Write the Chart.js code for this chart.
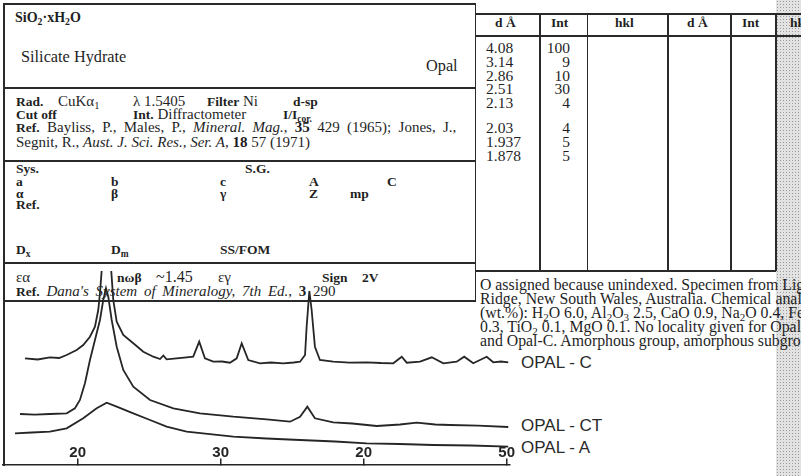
<!DOCTYPE html>
<html><head><meta charset="utf-8">
<script src="https://cdn.jsdelivr.net/npm/chart.js@4.4.0/dist/chart.umd.min.js"></script>
<style>
html,body{margin:0;padding:0;background:#fff;}
body{width:801px;height:476px;position:relative;overflow:hidden;font-family:"Liberation Serif","Times New Roman",serif;color:#1f1f1f;}
.t{position:absolute;white-space:nowrap;line-height:16px;height:16px;font-size:15px;z-index:1;}
.b{font-weight:bold;font-size:13.5px;}
.i{font-style:italic;}
.h{position:absolute;background:#2a2a2a;height:1.5px;z-index:1;}
.v{position:absolute;background:#2a2a2a;width:1.5px;z-index:1;}
.sb{font-size:70%;vertical-align:-0.3em;line-height:0;}
.cm{font-size:15.8px;}
.dv{font-size:15.5px;}
.lab{position:absolute;white-space:nowrap;font-family:"Liberation Sans",Arial,sans-serif;font-size:17px;line-height:18px;color:#2a2a2a;z-index:1;}
#shade{position:absolute;left:776px;top:0;width:25px;height:476px;background-color:#e2e2e2;background-image:radial-gradient(#9a9a9a 0.7px,transparent 0.9px);background-size:3px 3px;z-index:0;}
#c{position:absolute;left:0;top:0;z-index:2;}
</style>
</head>
<body>
<div id="shade"></div>

<!-- card frame -->
<div class="h" style="left:3px;top:3px;width:473px"></div>
<div class="v" style="left:3px;top:3px;height:463px"></div>
<div class="v" style="left:474.5px;top:3px;height:298px"></div>
<div class="h" style="left:3px;top:87px;width:473px"></div>
<div class="h" style="left:3px;top:160px;width:473px"></div>
<div class="h" style="left:3px;top:262px;width:473px"></div>
<div class="h" style="left:3px;top:300px;width:473px"></div>

<!-- d-spacing table frame -->
<div class="h" style="left:475px;top:13px;width:330px"></div>
<div class="h" style="left:475px;top:35px;width:330px"></div>
<div class="h" style="left:475px;top:270px;width:301px"></div>
<div class="v" style="left:539px;top:13px;height:258px"></div>
<div class="v" style="left:586.5px;top:13px;height:258px"></div>
<div class="v" style="left:667px;top:13px;height:258px"></div>
<div class="v" style="left:730px;top:13px;height:258px"></div>
<div class="v" style="left:775px;top:13px;height:258px"></div>

<!-- card text -->
<div class="t b" style="left:15px;top:10px;font-size:14px">SiO<span class="sb">2</span>·xH<span class="sb">2</span>O</div>
<div class="t" style="left:21px;top:49px;font-size:16.3px">Silicate Hydrate</div>
<div class="t" style="left:426px;top:58px;font-size:16.3px">Opal</div>

<div class="t" style="left:16px;top:93px"><span class="b">Rad.</span></div>
<div class="t" style="left:58px;top:93px">CuKα<span class="sb">1</span></div>
<div class="t" style="left:133px;top:93px">λ 1.5405</div>
<div class="t" style="left:207px;top:93px"><span class="b">Filter</span> Ni</div>
<div class="t" style="left:293px;top:93px"><span class="b">d-sp</span></div>
<div class="t" style="left:16px;top:105.5px"><span class="b">Cut off</span></div>
<div class="t" style="left:133px;top:105.5px"><span class="b">Int.</span> Diffractometer</div>
<div class="t" style="left:283px;top:105.5px"><span class="b">I/I<span class="sb">cor.</span></span></div>
<div class="t" style="left:16px;top:119px;word-spacing:3.6px"><span class="b">Ref.</span> Bayliss, P., Males, P., <span class="i">Mineral. Mag.</span>, <b>35</b> 429 (1965); Jones, J.,</div>
<div class="t" style="left:16px;top:133.5px">Segnit, R., <span class="i">Aust. J. Sci. Res., Ser. A</span>, <b>18</b> 57 (1971)</div>

<div class="t" style="left:16px;top:160px"><span class="b">Sys.</span></div>
<div class="t" style="left:245px;top:160px"><span class="b">S.G.</span></div>
<div class="t" style="left:16px;top:172.5px"><span class="b">a</span></div>
<div class="t" style="left:111px;top:172.5px"><span class="b">b</span></div>
<div class="t" style="left:220px;top:172.5px"><span class="b">c</span></div>
<div class="t" style="left:309px;top:172.5px"><span class="b">A</span></div>
<div class="t" style="left:387px;top:172.5px"><span class="b">C</span></div>
<div class="t" style="left:16px;top:185px"><span class="b">α</span></div>
<div class="t" style="left:111px;top:185px"><span class="b">β</span></div>
<div class="t" style="left:220px;top:185px"><span class="b">γ</span></div>
<div class="t" style="left:309px;top:185px"><span class="b">Z</span></div>
<div class="t" style="left:350px;top:185px"><span class="b">mp</span></div>
<div class="t" style="left:16px;top:196px"><span class="b">Ref.</span></div>
<div class="t" style="left:16px;top:241px"><span class="b">D<span class="sb">x</span></span></div>
<div class="t" style="left:111px;top:241px"><span class="b">D<span class="sb">m</span></span></div>
<div class="t" style="left:220px;top:241px"><span class="b">SS/FOM</span></div>

<div class="t" style="left:16px;top:269px">εα</div>
<div class="t" style="left:117px;top:269px"><span class="b">nωβ</span></div>
<div class="t" style="left:156px;top:269px;font-size:16px">~1.45</div>
<div class="t" style="left:218px;top:269px">εγ</div>
<div class="t" style="left:322px;top:269px"><span class="b">Sign</span></div>
<div class="t" style="left:362px;top:269px"><span class="b">2V</span></div>
<div class="t" style="left:16px;top:283px;word-spacing:3px"><span class="b">Ref.</span> <span class="i">Dana's System of Mineralogy, 7th Ed.</span>, <b>3</b> 290</div>

<!-- table text -->
<div class="t b" style="left:495px;top:15px">d Å</div>
<div class="t b" style="left:551px;top:15px">Int</div>
<div class="t b" style="left:615px;top:15px">hkl</div>
<div class="t b" style="left:687px;top:15px">d Å</div>
<div class="t b" style="left:742px;top:15px">Int</div>
<div class="t b" style="left:790px;top:15px">hkl</div>

<div id="dcol"></div>

<!-- comments -->
<div class="t cm" style="left:480px;top:276.5px">O assigned because unindexed. Specimen from Lightning</div>
<div class="t cm" style="left:480px;top:290.5px">Ridge, New South Wales, Australia. Chemical analysis</div>
<div class="t cm" style="left:480px;top:305px">(wt.%): H<span class="sb">2</span>O 6.0, Al<span class="sb">2</span>O<span class="sb">3</span> 2.5, CaO 0.9, Na<span class="sb">2</span>O 0.4, Fe<span class="sb">2</span>O<span class="sb">3</span></div>
<div class="t cm" style="left:480px;top:319px">0.3, TiO<span class="sb">2</span> 0.1, MgO 0.1. No locality given for Opal-CT</div>
<div class="t cm" style="left:480px;top:333px">and Opal-C. Amorphous group, amorphous subgroup.</div>

<div class="lab" style="left:521px;top:353.5px">OPAL - C</div>
<div class="lab" style="left:521px;top:416.5px">OPAL - CT</div>
<div class="lab" style="left:521px;top:438.5px">OPAL - A</div>

<canvas id="c" width="801" height="476"></canvas>

<script>
// ---- reflection list (card table) ----
const dSpacings = ['4.08','3.14','2.86','2.51','2.13','2.03','1.937','1.878'];
const dIntens   = ['100','9','10','30','4','4','5','5'];
const dRowY     = [48,62,75.5,89,102.5,127.5,141.5,155.5];

// ---- diffraction traces (2θ in degrees, relative intensity) ----
const twoThetaC = [16.32,17.20,18.06,18.70,19.23,19.93,20.39,20.86,21.21,21.44,21.56,22.03,22.49,22.73,23.19,23.89,24.59,25.29,25.76,25.99,26.22,26.92,27.62,28.08,28.50,28.90,29.48,30.10,30.65,31.12,31.47,31.93,32.75,33.50,34.38,35.10,35.55,35.90,36.01,36.20,36.36,36.59,36.94,37.87,39.00,40.21,41.20,42.07,42.66,43.01,43.94,44.76,45.57,46.50,47.03,47.66,48.60,49.06,49.60,50.11];
const intensC   = [106.7,105.5,107.7,107,110,115,120,128.3,138.3,155,172,260,165,143.3,130,121.7,113.3,108.3,106,109.5,105.7,106.7,107.7,108.3,123.3,106.7,103.3,103.5,102.3,106.7,121.7,105,101.7,102.5,101.7,102.5,103.3,110,138.3,174,155,118.3,105,103.3,102.3,102.7,102,101.7,108.3,102.3,103.3,107.7,101.7,103.3,108.3,101.7,108.3,102.7,103.5,102.7];

const twoThetaCT = [15.97,17.00,18.06,19.23,19.81,20.16,20.51,20.86,21.21,21.56,21.79,21.98,22.14,22.38,22.73,23.19,23.89,25.06,26.69,28.55,30.88,33.22,34.85,35.55,36.06,36.59,37.87,39.20,40.91,42.54,43.71,45.00,46.03,48.00,50.11];
const intensCT   = [51,50.3,51,51.7,56.7,65,81.7,105,125,145,165,176.7,168.3,145,118.3,95,78.3,65,56.7,51.7,48.3,45.7,43.3,48.3,58.3,46.7,42.7,41.5,39,40.5,42.3,40.5,40,39.3,38];

const twoThetaA = [15.62,16.80,18.06,19.23,20.39,21.33,22.03,22.73,23.89,25.06,26.22,27.62,30.88,33.20,35.55,38.00,40.21,42.50,44.87,47.50,50.11];
const intensA   = [31.7,32.5,33.3,36.7,46.7,56.7,62.3,58.3,51.7,45,38.3,33.3,28.3,26.5,25,23.5,21.7,21,20,19.5,18.3];

const seriesNames = ['OPAL - C','OPAL - CT','OPAL - A'];
const tickValues = [20,30,40,50];
const tickLabels = ['20','30','20','50'];

// reflection list text
const dcol = document.getElementById('dcol');
dSpacings.forEach((d,i)=>{
  const a = document.createElement('div');
  a.className='t dv'; a.style.left='486px'; a.style.top=(dRowY[i]-8)+'px'; a.textContent=d;
  dcol.appendChild(a);
  const b = document.createElement('div');
  b.className='t dv'; b.style.left='538px'; b.style.width='32px'; b.style.textAlign='right';
  b.style.top=(dRowY[i]-8)+'px'; b.textContent=dIntens[i];
  dcol.appendChild(b);
});

const pts = (xs, ys) => xs.map((x,i)=>({x:x, y:ys[i]}));
const lineStyle = {borderColor:'#262626', borderWidth:1.8, pointRadius:0, tension:0, fill:false};

new Chart(document.getElementById('c'), {
  type:'line',
  data:{datasets:[
    Object.assign({label:seriesNames[0], data:pts(twoThetaC,intensC)}, lineStyle),
    Object.assign({label:seriesNames[1], data:pts(twoThetaCT,intensCT)}, lineStyle),
    Object.assign({label:seriesNames[2], data:pts(twoThetaA,intensA)}, lineStyle)
  ]},
  options:{
    responsive:false, animation:false, devicePixelRatio:1,
    layout:{padding:{left:3, top:271, right:291, bottom:11}},
    plugins:{legend:{display:false}, tooltip:{enabled:false}},
    scales:{
      x:{
        type:'linear', min:14.78, max:50.23, position:{y:0},
        afterBuildTicks:(s)=>{ s.ticks = tickValues.map(v=>({value:v})); },
        afterFit:(s)=>{ s.height = 1; },
        ticks:{
          callback:(v,i)=>tickLabels[i], padding:-14, maxRotation:0, autoSkip:false,
          font:{family:'Liberation Sans', size:15, weight:'bold'}, color:'#252525'
        },
        grid:{display:true, drawOnChartArea:false, drawTicks:true, tickLength:-7, color:'#252525', lineWidth:1.5},
        border:{display:true, color:'#252525', width:1.5}
      },
      y:{display:false, min:0, max:194}
    }
  }
});
</script>
</body></html>
